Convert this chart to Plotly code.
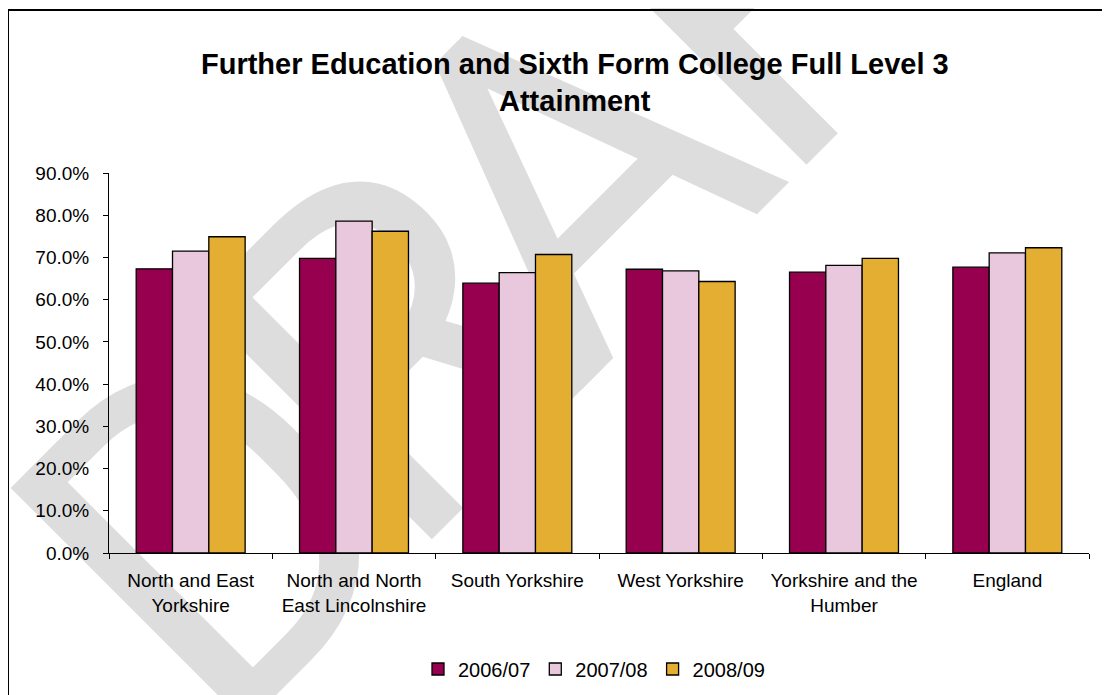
import plotly.graph_objects as go

categories = ["North and East Yorkshire", "North and North East Lincolnshire", "South Yorkshire",
              "West Yorkshire", "Yorkshire and the Humber", "England"]
tick_labels = ["North and East<br>Yorkshire", "North and North<br>East Lincolnshire", "South Yorkshire",
               "West Yorkshire", "Yorkshire and the<br>Humber", "England"]
series_names = ["2006/07", "2007/08", "2008/09"]
values_2006_07 = [0.673, 0.698, 0.639, 0.672, 0.665, 0.677]
values_2007_08 = [0.715, 0.786, 0.664, 0.668, 0.681, 0.711]
values_2008_09 = [0.749, 0.762, 0.707, 0.643, 0.698, 0.723]
colors = ["#96004F", "#E9C8DD", "#E4AE33"]

WATERMARK = "DRAFT"
FONT = "Arial, Liberation Sans, sans-serif"
W, H = 1110, 695
OFF = 8  # page body margin
PL, PR, PT, PB = 109, 1089, 173, 553  # plot area in page pixels
L, R, T, B = PL - OFF, W - (PR - OFF), PT - OFF, H - (PB - OFF)
PW, PH = PR - PL, PB - PT


def px_x(p):
    return (p - PL) / PW


def px_y(p):
    return (PB - p) / PH


fig = go.Figure()
for name, vals, col in zip(series_names, [values_2006_07, values_2007_08, values_2008_09], colors):
    fig.add_trace(go.Bar(x=categories, y=vals, name=name,
                         marker=dict(color=col, line=dict(color="black", width=1.3))))

fig.update_layout(
    width=W, height=H,
    margin=dict(l=L, r=R, t=T, b=B, autoexpand=False),
    paper_bgcolor="white", plot_bgcolor="rgba(0,0,0,0)",
    barmode="group", bargap=0.333, bargroupgap=0,
    font=dict(family=FONT, color="black", size=19),
    showlegend=True,
    legend=dict(orientation="h", x=px_x(594), xanchor="center", y=px_y(669), yanchor="middle",
                font=dict(size=20, family=FONT), bgcolor="rgba(0,0,0,0)", traceorder="normal"),
)
fig.update_xaxes(tickvals=categories, ticktext=tick_labels, showline=True, linecolor="black", linewidth=1,
                 ticks="outside", tickson="boundaries", ticklen=5, tickcolor="black",
                 showgrid=False, ticklabelstandoff=10, tickfont=dict(size=19))
fig.update_yaxes(range=[0, 0.9], dtick=0.1, tickformat=".1%", showline=True, linecolor="black", linewidth=1,
                 ticks="outside", ticklen=5, tickcolor="black", showgrid=False, zeroline=False,
                 ticklabelstandoff=10, tickfont=dict(size=19))

# watermark letters, laid along a 45-degree baseline, drawn below the bars
wm_size = 470
wm_along = [-222, 30, 282, 545, 805]   # letter centres along the baseline (px)
wm_perp = 652 - 0.34 * wm_size          # distance of letter centres from the page corner diagonal
for ch, s in zip(WATERMARK, wm_along):
    cx = (s + wm_perp) / 2 ** 0.5
    cy = (wm_perp - s) / 2 ** 0.5
    fig.add_shape(type="rect", xref="paper", yref="paper",
                  x0=px_x(cx - 1), x1=px_x(cx + 1), y0=px_y(cy + 1), y1=px_y(cy - 1),
                  line=dict(width=0), fillcolor="rgba(0,0,0,0)", layer="below",
                  label=dict(text=ch, textangle=-45, textposition="middle center",
                             font=dict(size=wm_size, color="#DDDDDD", family="Roboto, Arial, sans-serif")))

# outer frame
fig.add_shape(type="rect", xref="paper", yref="paper",
              x0=px_x(8), x1=px_x(1103), y0=px_y(705), y1=px_y(10),
              line=dict(color="black", width=2), fillcolor="rgba(0,0,0,0)", layer="above")

fig.add_annotation(text="<b>Further Education and Sixth Form College Full Level 3</b>", xref="paper", yref="paper",
                   x=px_x(575), y=px_y(64), xanchor="center", yanchor="middle", showarrow=False,
                   font=dict(size=29, family=FONT, color="black"))
fig.add_annotation(text="<b>Attainment</b>", xref="paper", yref="paper",
                   x=px_x(575), y=px_y(101), xanchor="center", yanchor="middle", showarrow=False,
                   font=dict(size=29, family=FONT, color="black"))
fig.add_annotation(text="<b>Chart 30</b>", xref="paper", yref="paper",
                   x=px_x(0), y=px_y(-5), xanchor="left", yanchor="middle", showarrow=False,
                   font=dict(size=26, family=FONT, color="black"))

fig.write_html("out.html")
